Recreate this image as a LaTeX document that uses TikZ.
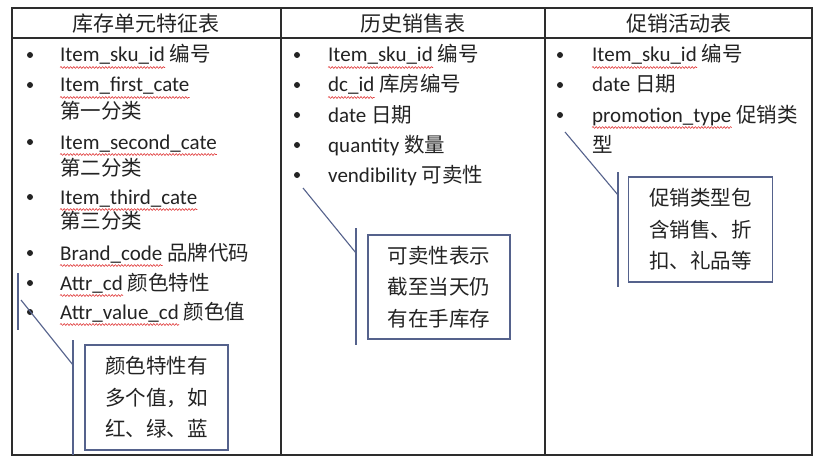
\documentclass[tikz,border=0pt]{standalone}
\usepackage{fontspec}
\setmainfont{Carlito}
\newfontfamily\cjk{Noto Sans CJK SC}
\usetikzlibrary{calc,decorations.pathmorphing}
\definecolor{gridc}{RGB}{45,45,45}
\definecolor{callc}{RGB}{85,98,140}
\definecolor{txtc}{RGB}{35,35,35}
\definecolor{squigc}{RGB}{225,60,60}
\newcommand{\fs}{\fontsize{21}{25}\selectfont}
\newcommand{\fc}{\fontsize{20.5}{25}\selectfont\cjk}
\tikzset{
  grid/.style={draw=gridc, line width=1.4pt},
  txt/.style={inner sep=0pt, anchor=base west, font=\fs, text=txtc},
  ctxt/.style={inner sep=0pt, anchor=base west, font=\fc, text=txtc},
  bul/.style={circle, fill=txtc, inner sep=0pt, minimum size=6pt},
  head/.style={inner sep=0pt, font=\fontsize{21}{25}\selectfont\cjk, text=txtc},
  callbox/.style={draw=callc, line width=1.1pt, inner sep=0pt, align=center,
    font=\fontsize{20.5}{31.5}\selectfont\cjk, text=txtc},
  leader/.style={draw=callc, line width=1.1pt},
  squig/.style={draw=squigc, line width=0.6pt, decorate,
    decoration={snake, segment length=3.2pt, amplitude=0.9pt}},
}
\begin{document}
\begin{tikzpicture}[x=1pt,y=-1pt]
\useasboundingbox (0,0) rectangle (825,460);
\fill[white] (0,0) rectangle (825,460);
% table
\draw[grid] (12,8) rectangle (812,455);
\draw[grid] (12,38) -- (812,38);
\draw[grid] (281,8) -- (281,455);
\draw[grid] (545,8) -- (545,455);
% headers
\node[head] (h1) at (146,24) {库存单元特征表};
\node[head] (h2) at (413,24) {历史销售表};
\node[head] (h3) at (679,24) {促销活动表};

% ---- column 1
\foreach \y in {55,85,142,197,253,283,312} \node[bul] at (30,\y) {};
\node[txt] (a1) at (60,62) {Item\_sku\_id};
\node[ctxt, xshift=4.5pt] at (a1.base east) {编号};
\node[txt] (a2) at (60,92) {Item\_first\_cate};
\node[ctxt] at (60,118) {第一分类};
\node[txt] (a3) at (60,149) {Item\_second\_cate};
\node[ctxt] at (60,175) {第二分类};
\node[txt] (a4) at (60,204) {Item\_third\_cate};
\node[ctxt] at (60,228) {第三分类};
\node[txt] (a5) at (60,260) {Brand\_code};
\node[ctxt, xshift=4.5pt] at (a5.base east) {品牌代码};
\node[txt] (a6) at (60,290) {Attr\_cd};
\node[ctxt, xshift=4.5pt] at (a6.base east) {颜色特性};
\node[txt] (a7) at (60,319) {Attr\_value\_cd};
\node[ctxt, xshift=4.5pt] at (a7.base east) {颜色值};

% ---- column 2
\foreach \y in {55,85,115,145,175} \node[bul] at (297,\y) {};
\node[txt] (b1) at (328,62) {Item\_sku\_id};
\node[ctxt, xshift=4.5pt] at (b1.base east) {编号};
\node[txt] (b2) at (328,92) {dc\_id};
\node[ctxt, xshift=4.5pt] at (b2.base east) {库房编号};
\node[txt] (b3) at (328,122) {date};
\node[ctxt, xshift=4.5pt] at (b3.base east) {日期};
\node[txt] (b4) at (328,152) {quantity};
\node[ctxt, xshift=4.5pt] at (b4.base east) {数量};
\node[txt] (b5) at (328,182) {vendibility};
\node[ctxt, xshift=4.5pt] at (b5.base east) {可卖性};

% ---- column 3
\foreach \y in {55,85,115} \node[bul] at (560,\y) {};
\node[txt] (c1) at (592,62) {Item\_sku\_id};
\node[ctxt, xshift=4.5pt] at (c1.base east) {编号};
\node[txt] (c2) at (592,92) {date};
\node[ctxt, xshift=4.5pt] at (c2.base east) {日期};
\node[txt] (c3) at (592,122) {promotion\_type};
\node[ctxt, xshift=4.5pt] at (c3.base east) {促销类};
\node[ctxt] at (592,152) {型};

% squiggles
\foreach \n in {a1,a2,a3,a4,a5,a6,a7,b1,b2,c1,c3}
  \draw[squig] ($(\n.base west)+(0,5.5)$) -- ($(\n.base east)+(0,5.5)$);

% ---- callouts
\node[callbox, minimum width=143pt, minimum height=105pt] (k1) at (156.5,397.5)
  {颜色特性有\\多个值，如\\红、绿、蓝};
\node[callbox, minimum width=142pt, minimum height=104pt] (k2) at (439,287)
  {可卖性表示\\截至当天仍\\有在手库存};
\node[callbox, minimum width=144pt, minimum height=105pt] (k3) at (700.5,229.5)
  {促销类型包\\含销售、折\\扣、礼品等};

\coordinate (p1a) at (18,273); \coordinate (p1b) at (18,330);
\coordinate (q1a) at (21,300); \coordinate (q1b) at (73,365);
\coordinate (r1a) at (73,340); \coordinate (r1b) at (73,455);
\draw[leader] (p1a) -- (p1b);
\draw[leader] (q1a) -- (q1b);
\draw[leader] (r1a) -- (r1b);

\coordinate (q2a) at (303,188); \coordinate (q2b) at (356,253);
\coordinate (r2a) at (356,228); \coordinate (r2b) at (356,345);
\draw[leader] (q2a) -- (q2b);
\draw[leader] (r2a) -- (r2b);

\coordinate (q3a) at (565,132); \coordinate (q3b) at (618,195);
\coordinate (r3a) at (618,172); \coordinate (r3b) at (618,287);
\draw[leader] (q3a) -- (q3b);
\draw[leader] (r3a) -- (r3b);
\end{tikzpicture}
\end{document}
